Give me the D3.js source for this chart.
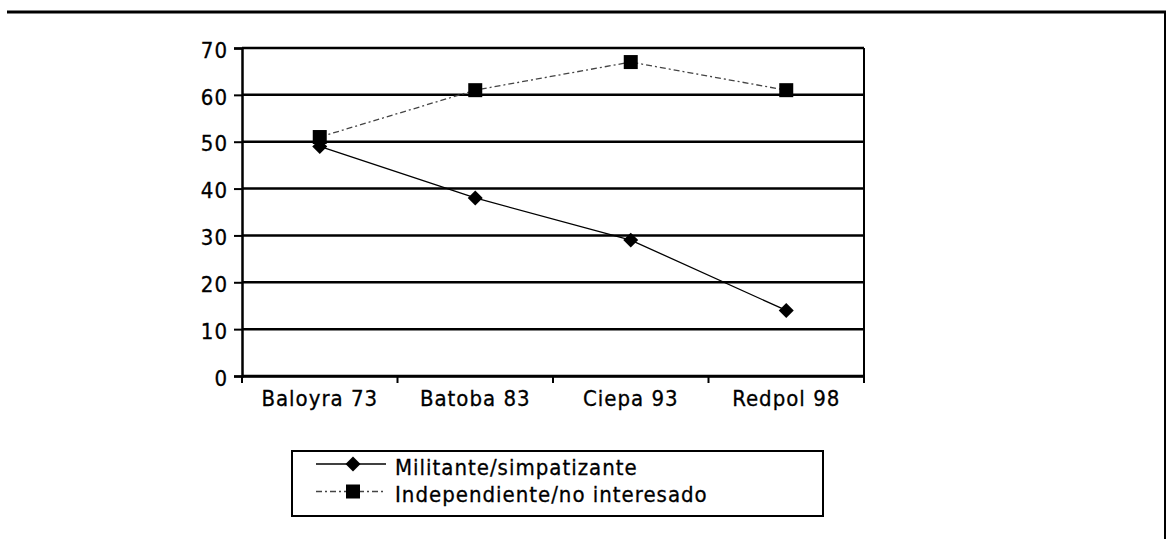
<html>
<script src='https://d3js.org/d3.v7.min.js'></script>
<style>
body {margin:0; background:white;}
text {font-family:'DejaVu Sans Condensed', 'Liberation Sans', Arial, sans-serif; font-stretch:condensed; font-size:22px; letter-spacing:1px; fill:black; stroke:black; stroke-width:0.3px;}
</style>
<body onload='init()'>
<svg width=1168 height=539>
</svg>
<script>
const categories = ['Baloyra 73','Batoba 83','Ciepa 93','Redpol 98'];
const militante = [49, 38, 29, 14];
const independiente = [51, 61, 67, 61];
const yTicks = [0,10,20,30,40,50,60,70];
const seriesNames = ['Militante/simpatizante','Independiente/no interesado'];

function init() {
var svg = d3.select('svg');

// page frame: top rule and right rule
svg.append('line').attr('x1',7).attr('x2',1166).attr('y1',12).attr('y2',12)
  .attr('stroke','black').attr('stroke-width',3);
svg.append('line').attr('x1',1165).attr('x2',1165).attr('y1',12).attr('y2',539)
  .attr('stroke','black').attr('stroke-width',2);

var x = d3.scaleBand().domain(categories).range([242,864]);
var y = d3.scaleLinear().domain([0,70]).range([376,48]);

// gridlines
svg.append('g').selectAll('line').data(yTicks).enter().append('line')
  .attr('x1',242).attr('x2',864)
  .attr('y1',function(d){return y(d);}).attr('y2',function(d){return y(d);})
  .attr('stroke','black').attr('stroke-width',2.5);

// right border of plot area
svg.append('line').attr('x1',864).attr('x2',864).attr('y1',y(70)).attr('y2',y(0))
  .attr('stroke','black').attr('stroke-width',2);

// y axis
var ya = svg.append('g').attr('transform','translate(242,0)')
  .call(d3.axisLeft(y).tickValues(yTicks).tickSize(8).tickPadding(6));
ya.select('.domain').attr('stroke-width',2.5);
ya.selectAll('.tick line').attr('stroke-width',2);
ya.selectAll('text').attr('font-size',null).attr('font-family',null).attr('dy','0.42em');

// x axis: labels centred, ticks at band edges
var xa = svg.append('g').attr('transform','translate(0,376)')
  .call(d3.axisBottom(x).tickSize(0).tickPadding(15));
xa.select('.domain').attr('stroke-width',2.5);
xa.selectAll('text').attr('font-size',null).attr('font-family',null).attr('dy','0.68em');
var edges = categories.map(function(d){return x(d);}).concat([x.range()[1]]);
svg.append('g').selectAll('line').data(edges).enter().append('line')
  .attr('x1',function(d){return d;}).attr('x2',function(d){return d;})
  .attr('y1',376).attr('y2',383)
  .attr('stroke','black').attr('stroke-width',2);

var cx = function(d,i){return x(categories[i]) + x.bandwidth()/2;};
var line = d3.line().x(function(d,i){return cx(d,i);}).y(function(d){return y(d);});

svg.append('path').datum(independiente).attr('d',line)
  .attr('fill','none').attr('stroke','#444').attr('stroke-width',1.3)
  .attr('stroke-dasharray','6,3,2,3');
svg.append('path').datum(militante).attr('d',line)
  .attr('fill','none').attr('stroke','black').attr('stroke-width',1.3);

var diamond = d3.symbol().type(d3.symbolSquare).size(112);
svg.append('g').selectAll('path').data(militante).enter().append('path')
  .attr('d',diamond)
  .attr('transform',function(d,i){return 'translate('+cx(d,i)+','+y(d)+') rotate(45)';})
  .attr('fill','black');
var square = d3.symbol().type(d3.symbolSquare).size(196);
svg.append('g').selectAll('path').data(independiente).enter().append('path')
  .attr('d',square)
  .attr('transform',function(d,i){return 'translate('+cx(d,i)+','+y(d)+')';})
  .attr('fill','black');

// legend
var lg = svg.append('g');
lg.append('rect').attr('x',292).attr('y',451).attr('width',531).attr('height',65)
  .attr('fill','white').attr('stroke','black').attr('stroke-width',2);
var rows = [464, 491.5];
lg.append('line').attr('x1',316).attr('x2',386).attr('y1',rows[0]).attr('y2',rows[0])
  .attr('stroke','black').attr('stroke-width',1.3);
lg.append('path').attr('d',diamond)
  .attr('transform','translate(353,'+rows[0]+') rotate(45)').attr('fill','black');
lg.append('line').attr('x1',316).attr('x2',386).attr('y1',rows[1]).attr('y2',rows[1])
  .attr('stroke','#444').attr('stroke-width',1.3).attr('stroke-dasharray','6,3,2,3');
lg.append('path').attr('d',square)
  .attr('transform','translate(353,'+rows[1]+')').attr('fill','black');
lg.selectAll('text').data(seriesNames).enter().append('text')
  .attr('x',395).attr('y',function(d,i){return rows[i]+4;})
  .attr('dy','0.3em')
  .text(function(d){return d;});
}
</script>
</body>
</html>
